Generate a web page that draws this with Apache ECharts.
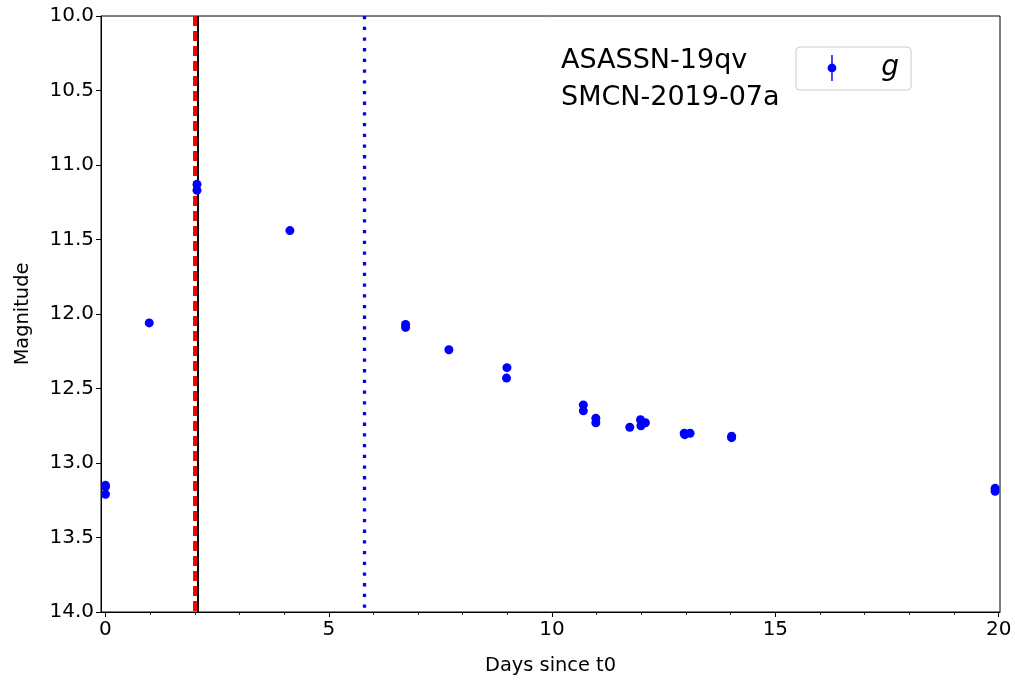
<!DOCTYPE html>
<html>
<head>
<meta charset="utf-8">
<script src="https://cdn.jsdelivr.net/npm/echarts@6/dist/echarts.min.js"></script>
<style>
html,body{margin:0;padding:0;background:#fff;}
#chart{width:1015px;height:683px;}
</style>
</head>
<body>
<div id="chart"></div>
<script>
// ---- data ----
var days = [0.0, 0.0, 0.0, 0.98, 2.05, 2.05, 4.13, 6.72, 6.72, 7.69, 8.99, 8.98, 10.70, 10.70, 10.98, 10.98, 11.74, 11.98, 11.99, 12.09, 12.96, 12.97, 13.09, 14.02, 14.02, 19.92, 19.92];
var mags = [13.15, 13.16, 13.21, 12.06, 11.13, 11.17, 11.44, 12.07, 12.09, 12.24, 12.36, 12.43, 12.61, 12.65, 12.70, 12.73, 12.76, 12.71, 12.75, 12.73, 12.80, 12.81, 12.80, 12.82, 12.83, 13.17, 13.19];
var bandName = 'g';
var vlineRed = 1.99;
var vlineBlack = 2.055;
var vlineBlue = 5.79;
var xTickValues = [0, 5, 10, 15, 20];
var xMinorTickValues = [1, 2, 3, 4, 6, 7, 8, 9, 11, 12, 13, 14, 16, 17, 18, 19];
var annotationLines = ['ASASSN-19qv', 'SMCN-2019-07a'];
var xLabel = 'Days since t0';
var yLabel = 'Magnitude';

var points = days.map(function (d, i) { return [d, mags[i]]; });

var FONT = 'DejaVu Sans';
var chart = echarts.init(document.getElementById('chart'), null, {renderer: 'canvas'});

var legendIcon = 'path://M26.75,0 H28.25 V9 H26.75 Z M26.75,17.5 H28.25 V26.5 H26.75 Z ' +
  'M23,13.25 A4.5,4.5 0 1,0 32,13.25 A4.5,4.5 0 1,0 23,13.25 Z ' +
  'M0,13 L0.01,13 L0,13.01 Z M72,13 L71.99,13 L72,13.01 Z';

var option = {
  animation: false,
  backgroundColor: '#ffffff',
  grid: {
    left: 101, top: 16, right: 15, bottom: 71,
    show: true, borderColor: '#000', borderWidth: 1, backgroundColor: 'transparent'
  },
  xAxis: [{
    type: 'value', min: -0.1, max: 20.03,
    position: 'bottom',
    name: xLabel, nameLocation: 'middle', nameGap: 44,
    nameTextStyle: {fontFamily: FONT, fontSize: 19.4, color: '#000'},
    axisLine: {show: true, onZero: false, lineStyle: {color: '#000', width: 1}},
    axisTick: {show: true, customValues: xTickValues, length: 5, lineStyle: {color: '#000', width: 1}},
    axisLabel: {customValues: xTickValues, fontFamily: FONT, fontSize: 20, color: '#000', margin: 8},
    splitLine: {show: false}
  }, {
    type: 'value', min: -0.1, max: 20.03,
    position: 'bottom',
    axisLine: {show: false, onZero: false},
    axisTick: {show: true, customValues: xMinorTickValues, length: 3, lineStyle: {color: '#000', width: 0.8}},
    axisLabel: {show: false},
    splitLine: {show: false}
  }],
  yAxis: [{
    type: 'value', inverse: true, min: 10, max: 14, interval: 0.5,
    name: yLabel, nameLocation: 'middle', nameGap: 69, nameRotate: 90,
    nameTextStyle: {fontFamily: FONT, fontSize: 19.4, color: '#000'},
    axisLine: {show: true, onZero: false, lineStyle: {color: '#000', width: 1}},
    axisTick: {show: true, length: 5, lineStyle: {color: '#000', width: 1}},
    axisLabel: {fontFamily: FONT, fontSize: 20, color: '#000', margin: 7,
      formatter: function (v) { return v.toFixed(1); }},
    splitLine: {show: false}
  }],
  legend: {
    show: true,
    left: 796, top: 47,
    padding: [7, 12, 8, 9],
    backgroundColor: '#fff',
    borderColor: '#cccccc', borderWidth: 1, borderRadius: 4,
    itemWidth: 72, itemHeight: 26,
    data: [{name: bandName, icon: legendIcon}],
    textStyle: {fontFamily: FONT, fontSize: 28, fontStyle: 'italic', color: '#000', padding: [0, 0, 4, 0]}
  },
  graphic: [{
    type: 'text', left: 561, top: 42, z: 10,
    style: {text: annotationLines.join('\n'), font: '27px "DejaVu Sans"', fill: '#000', lineHeight: 37}
  }],
  series: [{
    name: '_lines', type: 'scatter', data: [], silent: true, z: 1,
    markLine: {
      symbol: 'none', silent: true, animation: false,
      label: {show: false},
      data: [
        {xAxis: vlineBlack, lineStyle: {color: '#000', width: 2, type: 'solid'}},
        {xAxis: vlineRed, lineStyle: {color: '#ff0000', width: 4, type: [10, 5]}},
        {xAxis: vlineBlue, lineStyle: {color: '#0000ff', width: 3.3, type: [3.3, 7.4]}}
      ]
    }
  }, {
    name: bandName, type: 'scatter', data: points, z: 5,
    symbol: 'circle', symbolSize: 9,
    itemStyle: {color: '#0000ff', opacity: 1}
  }]
};
chart.setOption(option);
</script>
</body>
</html>
